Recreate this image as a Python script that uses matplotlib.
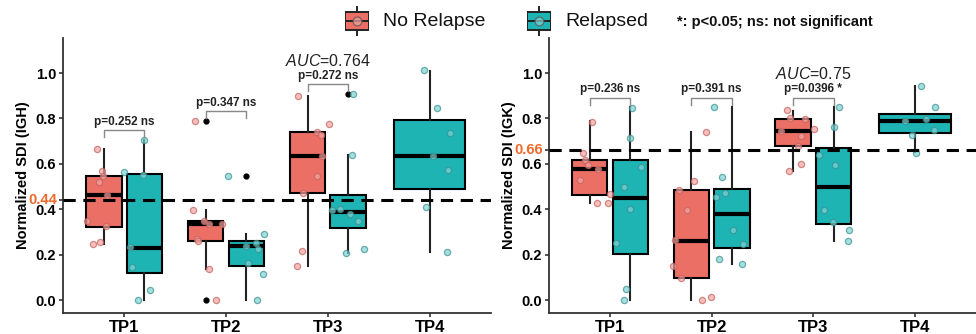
import matplotlib.pyplot as plt
from matplotlib.patches import Rectangle

plt.rcParams['font.family'] = ['Liberation Sans', 'DejaVu Sans']
plt.rcParams['mathtext.fontset'] = 'custom'
plt.rcParams['mathtext.it'] = 'Liberation Sans:italic'
plt.rcParams['mathtext.rm'] = 'Liberation Sans'

RED = '#EC6F66'
TEAL = '#1EB4B4'
RED_PT = '#F4A3A0'
TEAL_PT = '#7FD3D3'
ORANGE = '#F0692A'

tps = ['TP1', 'TP2', 'TP3', 'TP4']

# ---- IGH panel: box stats (whislo, q1, med, q3, whishi) ----
igh_red_box = [(0.245, 0.323, 0.462, 0.545, 0.666),
               (0.138, 0.258, 0.333, 0.347, 0.396),
               (0.148, 0.471, 0.636, 0.740, 0.899)]
igh_red_out = [[], [0.79, 0.0], []]
igh_teal_box = [(0.0, 0.120, 0.230, 0.556, 0.704),
                (0.0, 0.151, 0.239, 0.262, 0.290),
                (0.207, 0.318, 0.387, 0.462, 0.641),
                (0.210, 0.490, 0.633, 0.792, 1.010)]
igh_teal_out = [[], [0.548], [0.908], []]

# jittered points: (x offset from timepoint, value)
igh_red_pts = [
    [(-0.27, 0.667), (-0.22, 0.569), (-0.25, 0.518), (-0.21, 0.545), (-0.17, 0.465),
     (-0.36, 0.347), (-0.18, 0.326), (-0.31, 0.245), (-0.24, 0.254)],
    [(-0.30, 0.790), (-0.32, 0.398), (-0.22, 0.349), (-0.17, 0.333), (-0.04, 0.333),
     (-0.28, 0.271), (-0.27, 0.261), (-0.17, 0.138), (-0.10, 0.0)],
    [(-0.29, 0.899), (0.01, 0.774), (-0.11, 0.740), (-0.07, 0.727), (-0.06, 0.636),
     (-0.11, 0.548), (-0.24, 0.471), (-0.25, 0.216), (-0.30, 0.148)],
]
igh_teal_pts = [
    [(0.20, 0.704), (0.19, 0.553), (0.00, 0.566), (0.06, 0.232), (0.08, 0.145),
     (0.25, 0.044), (0.14, 0.0)],
    [(0.02, 0.548), (0.37, 0.292), (0.29, 0.251), (0.20, 0.239), (0.31, 0.226),
     (0.22, 0.164), (0.36, 0.113), (0.30, 0.0)],
    [(0.25, 0.908), (0.24, 0.641), (0.12, 0.402), (0.04, 0.396), (0.22, 0.381),
     (0.30, 0.350), (0.18, 0.207), (0.35, 0.226)],
    [(-0.06, 1.013), (0.07, 0.848), (0.20, 0.736), (0.03, 0.633), (0.18, 0.573),
     (-0.04, 0.408), (0.17, 0.211)],
]

# ---- IGK panel ----
igk_red_box = [(0.428, 0.465, 0.578, 0.619, 0.789),
               (0.0, 0.098, 0.261, 0.485, 0.739),
               (0.567, 0.679, 0.743, 0.798, 0.834)]
igk_red_out = [[], [], []]
igk_teal_box = [(0.0, 0.201, 0.449, 0.619, 0.850),
                (0.158, 0.230, 0.380, 0.488, 0.850),
                (0.261, 0.334, 0.497, 0.670, 0.850),
                (0.651, 0.736, 0.790, 0.821, 0.941)]
igk_teal_out = [[], [], [], []]

igk_red_pts = [
    [(-0.18, 0.786), (-0.27, 0.648), (-0.25, 0.619), (-0.22, 0.597), (-0.12, 0.576),
     (-0.30, 0.528), (0.00, 0.468), (-0.13, 0.428), (-0.02, 0.428)],
    [(-0.06, 0.742), (-0.17, 0.523), (-0.32, 0.485), (-0.24, 0.396), (-0.36, 0.264),
     (-0.38, 0.150), (-0.30, 0.098), (-0.01, 0.015), (-0.10, 0.0)],
    [(-0.26, 0.836), (-0.23, 0.801), (-0.08, 0.798), (0.01, 0.754), (-0.32, 0.743),
     (-0.12, 0.723), (-0.15, 0.680), (-0.12, 0.601), (-0.24, 0.567)],
]
igk_teal_pts = [
    [(0.22, 0.848), (0.20, 0.716), (0.30, 0.588), (0.14, 0.497), (0.20, 0.400),
     (0.06, 0.252), (0.16, 0.050), (0.14, 0.0)],
    [(0.02, 0.850), (0.10, 0.541), (0.13, 0.472), (0.04, 0.452), (0.21, 0.308),
     (0.31, 0.246), (0.07, 0.179), (0.30, 0.157)],
    [(0.25, 0.850), (0.20, 0.762), (0.06, 0.639), (0.21, 0.597), (0.10, 0.397),
     (0.19, 0.343), (0.35, 0.308), (0.34, 0.260)],
    [(0.06, 0.943), (0.20, 0.850), (0.11, 0.798), (-0.10, 0.790), (0.19, 0.748),
     (-0.03, 0.727), (0.01, 0.650)],
]

igh_pvals = ['p=0.252 ns', 'p=0.347 ns', 'p=0.272 ns']
igh_bracket_y = [0.748, 0.831, 0.950]
igk_pvals = ['p=0.236 ns', 'p=0.391 ns', 'p=0.0396 *']
igk_bracket_y = [0.891, 0.891, 0.891]

igh_auc = '0.764'
igk_auc = '0.75'
igh_cut = 0.44
igk_cut = 0.66


def draw_boxes(ax, boxes, outs, pos, width, color):
    stats = []
    for b, o in zip(boxes, outs):
        stats.append(dict(whislo=b[0], q1=b[1], med=b[2], q3=b[3], whishi=b[4], fliers=o))
    ax.bxp(stats, positions=pos, widths=width, patch_artist=True, showcaps=False,
           boxprops=dict(facecolor=color, edgecolor='black', linewidth=1.5),
           whiskerprops=dict(color='#222222', linewidth=1.5),
           medianprops=dict(color='black', linewidth=3),
           flierprops=dict(marker='o', markerfacecolor='black', markeredgecolor='black',
                           markersize=3.5))


def draw_points(ax, pts, fill, edge):
    for i, grp in enumerate(pts):
        xs = [i + 1 + p[0] for p in grp]
        ys = [p[1] for p in grp]
        ax.scatter(xs, ys, s=20, facecolor=fill, edgecolor=edge, linewidth=0.9, alpha=0.7, zorder=4)


def panel(ax, red_box, red_out, teal_box, teal_out, red_pts, teal_pts,
          pvals, by, auc, cut, ylab):
    draw_boxes(ax, red_box, red_out, [0.8, 1.8, 2.8], 0.35, RED)
    draw_boxes(ax, teal_box[:3], teal_out[:3], [1.2, 2.2, 3.2], 0.35, TEAL)
    draw_boxes(ax, teal_box[3:], teal_out[3:], [4.0], 0.70, TEAL)
    draw_points(ax, red_pts, RED_PT, '#C2615D')
    draw_points(ax, teal_pts, TEAL_PT, '#3A8E8E')
    ax.axhline(cut, color='black', linestyle=(0, (4, 2.5)), linewidth=2.2, zorder=5)

    for i, (txt, y) in enumerate(zip(pvals, by)):
        x0, x1 = i + 0.8, i + 1.2
        ax.plot([x0, x0, x1, x1], [y - 0.03, y, y, y - 0.03], color='#888888', lw=1.0, zorder=6)
        ax.text(i + 1, y + 0.012, txt, ha='center', va='bottom', fontsize=8.5,
                fontweight='bold', color='#222222')
    ax.text(3, by[2] + 0.07, r'$\it{AUC}$=' + auc, ha='center', va='bottom', fontsize=11.5,
            color='#222222')

    ax.set_xlim(0.4, 4.6)
    ax.set_ylim(-0.057, 1.154)
    ax.set_xticks([1, 2, 3, 4])
    ax.set_xticklabels(tps, fontsize=12, fontweight='bold')
    yt = [0.0, 0.2, 0.4, 0.6, 0.8, 1.0]
    ax.set_yticks(yt + [cut])
    ax.set_yticklabels(['%.1f' % v for v in yt] + [''], fontsize=10.5, fontweight='bold')
    ax.annotate('%.2f' % cut, xy=(0, cut), xycoords=ax.get_yaxis_transform(),
                xytext=(-4, 0), textcoords='offset points', ha='right', va='center',
                fontsize=10.5, fontweight='bold', color=ORANGE)
    ax.tick_params(axis='both', length=3, width=1.2, color='#333333', pad=2)
    ax.set_ylabel(ylab, fontsize=10.5, fontweight='bold', labelpad=4)
    for s in ['top', 'right']:
        ax.spines[s].set_visible(False)
    for s in ['left', 'bottom']:
        ax.spines[s].set_color('#333333')
        ax.spines[s].set_linewidth(1.3)


fig = plt.figure(figsize=(9.76, 3.34), dpi=100)
ax1 = fig.add_axes([0.0645, 0.0629, 0.4385, 0.823])
ax2 = fig.add_axes([0.5625, 0.0629, 0.4375, 0.823])
panel(ax1, igh_red_box, igh_red_out, igh_teal_box, igh_teal_out, igh_red_pts, igh_teal_pts,
      igh_pvals, igh_bracket_y, igh_auc, igh_cut, 'Normalized SDI (IGH)')
panel(ax2, igk_red_box, igk_red_out, igk_teal_box, igk_teal_out, igk_red_pts, igk_teal_pts,
      igk_pvals, igk_bracket_y, igk_auc, igk_cut, 'Normalized SDI (IGK)')


# legend keys drawn in small axes at the top
def legend_key(x_px, color, ptfill, label):
    kx = fig.add_axes([x_px / 976, 1 - 36 / 334, 24 / 976, 30 / 334])
    kx.set_xlim(0, 1)
    kx.set_ylim(0, 1)
    kx.axis('off')
    kx.plot([0.5, 0.5], [0.0, 1.0], color='#222222', lw=1.4)
    kx.add_patch(Rectangle((0.02, 0.2), 0.96, 0.6, facecolor=color, edgecolor='#222222', lw=1.4, zorder=2))
    kx.plot([0.02, 0.98], [0.5, 0.5], color='#222222', lw=1.4, zorder=3)
    kx.scatter([0.5], [0.5], s=40, facecolor=ptfill, edgecolor='#555555', alpha=0.7, zorder=4)
    fig.text((x_px + 38) / 976, 1 - 22 / 334, label, fontsize=14, va='center', ha='left',
             color='#111111')


legend_key(345, RED, RED_PT, 'No Relapse')
legend_key(527, TEAL, TEAL_PT, 'Relapsed')
fig.text(677 / 976, 1 - 22 / 334, '*: p<0.05; ns: not significant', fontsize=10.5,
         fontweight='bold', va='center', ha='left', color='#111111')

fig.savefig('out.png', dpi=100)
